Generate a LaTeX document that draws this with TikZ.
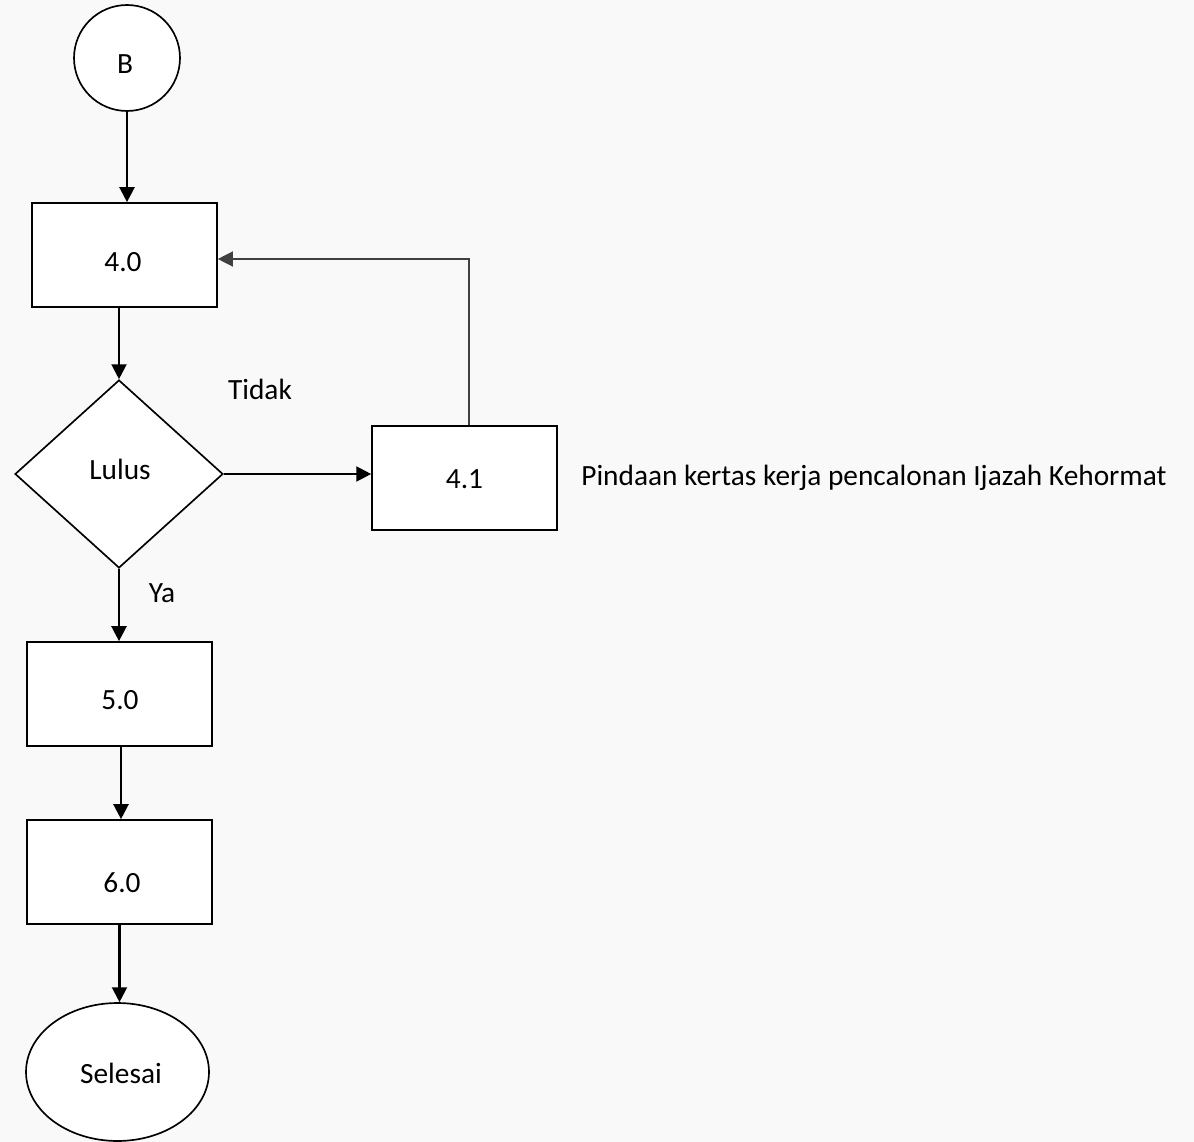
\documentclass[tikz,border=0pt]{standalone}
\usepackage{fontspec}
\setmainfont{Carlito}
\usetikzlibrary{shapes.geometric,arrows.meta}
\definecolor{bgc}{HTML}{F9F9F9}
\begin{document}
\begin{tikzpicture}[x=0.02cm,y=-0.02cm,
  every node/.style={font=\fontsize{16.7}{19}\selectfont},
  every label/.style={font=\fontsize{16.7}{19}\selectfont,inner sep=0pt},
  procbox/.style={draw,line width=0.95pt,fill=white,minimum width=3.7cm,minimum height=2.08cm,inner sep=0pt},
  decbox/.style={diamond,draw,line width=0.95pt,fill=white,minimum width=4.16cm,minimum height=3.76cm,inner sep=0pt},
  conn/.style={draw,line width=1.3pt,-{Triangle[length=8.5pt,width=8.5pt]}},
  thinconn/.style={draw,line width=0.75pt,black!75,-{Triangle[length=8.5pt,width=8.5pt]}},
  plaintxt/.style={inner sep=0pt}
]
\fill[bgc] (0,0) rectangle (1194,1142);
\useasboundingbox (0,0) rectangle (1194,1142);

\node[circle,draw,line width=0.95pt,fill=white,minimum size=2.12cm,inner sep=0pt,
  label={[shift={(-2,6)}]center:B}] (b) at (127,58) {};
\node[procbox,label={[shift={(-1.5,7)}]center:4.0}] (n40) at (124.5,255) {};
\node[decbox,label={[shift={(1,-5)}]center:Lulus}] (dia) at (119,474) {};
\node[procbox,label={[shift={(0,1)}]center:4.1}] (n41) at (464.5,478) {};
\node[procbox,label={[shift={(0.5,6)}]center:5.0}] (n50) at (119.5,694) {};
\node[procbox,label={[shift={(2.5,11)}]center:6.0}] (n60) at (119.5,872) {};
\node[ellipse,draw,line width=0.95pt,fill=white,minimum width=3.66cm,minimum height=2.76cm,inner sep=0pt,
  label={[shift={(3.5,1)}]center:Selesai}] (end) at (117.5,1072) {};

\node[plaintxt] (tidak) at (260,389) {Tidak};
\node[plaintxt] (ya) at (162,593) {Ya};
\node[plaintxt,anchor=west] (desc) at (581,478) {Pindaan kertas kerja pencalonan Ijazah Kehormat};

\draw[conn] (b.south) -- (b.south |- n40.north);
\draw[conn] (dia.north |- n40.south) -- (dia.north);
\draw[conn] (dia.east) -- (dia.east -| n41.west);
\draw[thinconn] ([xshift=0.09cm]n41.north) |- ([yshift=-0.08cm]n40.east);
\draw[conn] (dia.south) -- (dia.south |- n50.north);
\draw[conn] ([xshift=0.03cm]n50.south) -- ([xshift=0.03cm]n60.north);
\draw[conn] (n60.south) -- (n60.south |- end.north);
\end{tikzpicture}
\end{document}
